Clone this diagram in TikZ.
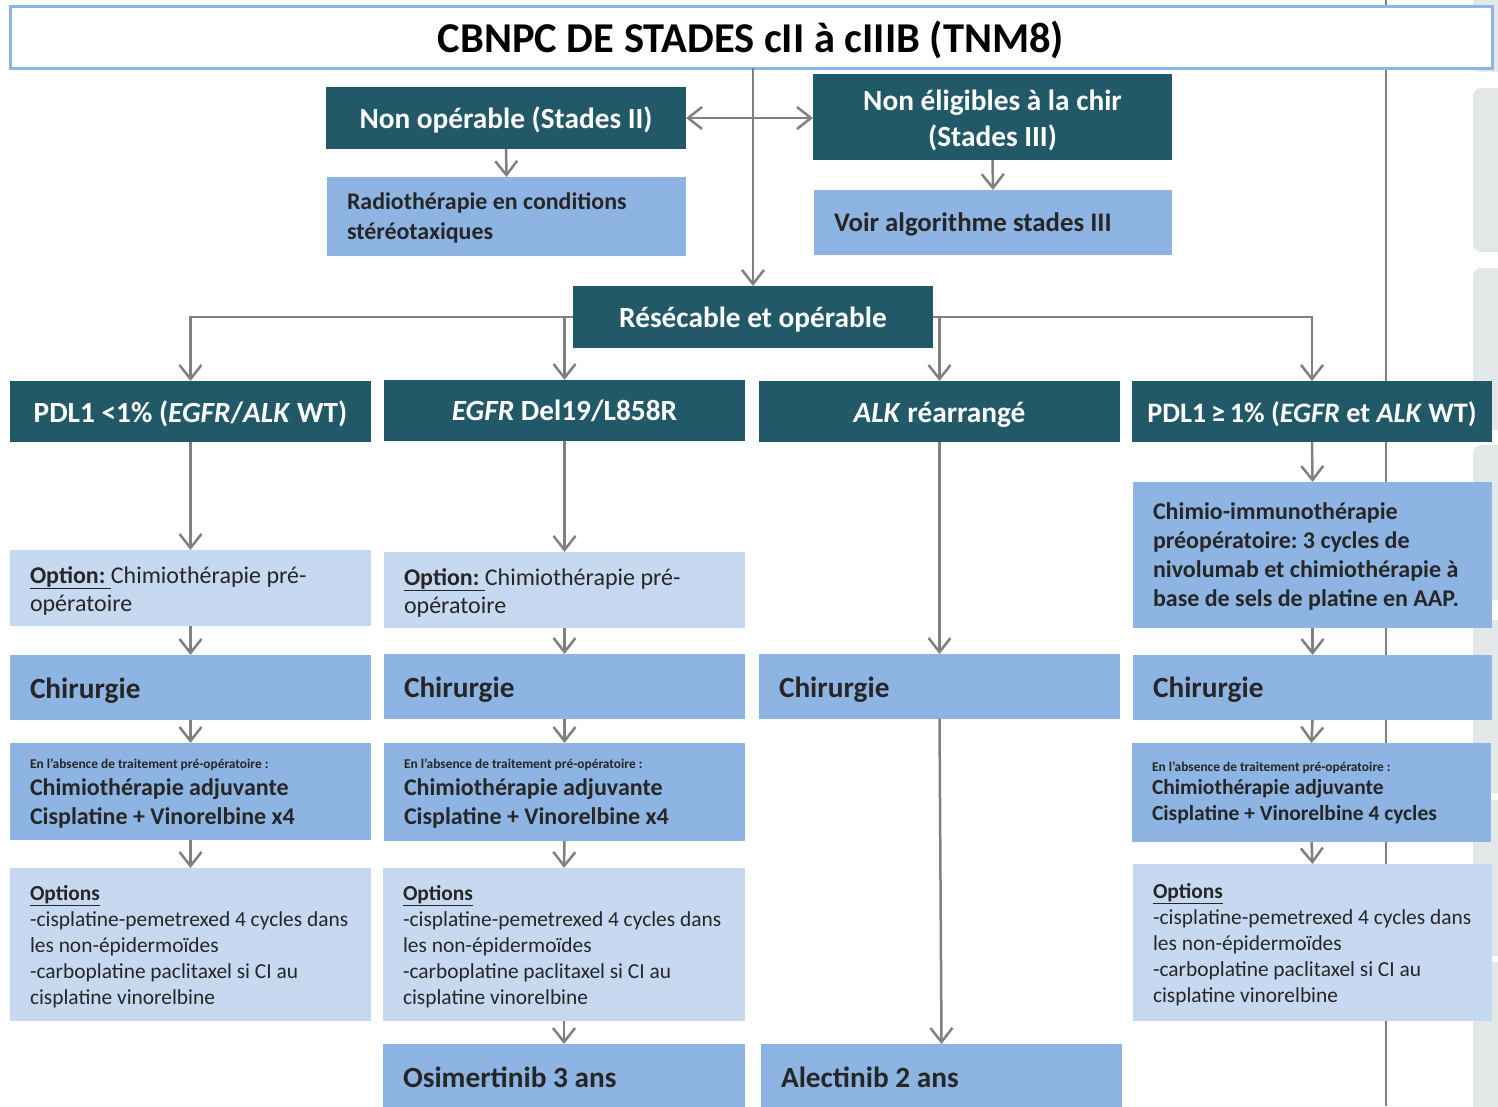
\documentclass[tikz,border=0pt]{standalone}
\usepackage{fontspec}
\setmainfont{Carlito}
\usetikzlibrary{arrows.meta}
\definecolor{dteal}{HTML}{215968}
\definecolor{mblue}{HTML}{8EB4E3}
\definecolor{lblue}{HTML}{C6D9F1}
\definecolor{txt}{HTML}{262626}
\definecolor{agray}{HTML}{808080}
\definecolor{sidegray}{HTML}{E4E7E7}
\newcommand{\fs}[2]{\fontsize{#1}{#2}\selectfont}
\frenchspacing
\begin{document}
\begin{tikzpicture}[x=1pt,y=-1pt,
  bx/.style={anchor=north west, inner sep=0pt, outer sep=0pt},
  dark/.style={bx, fill=dteal, text=white, font=\bfseries\fs{29.3}{36}, align=center},
  mid/.style={bx, fill=mblue, text=txt},
  light/.style={bx, fill=lblue, text=txt},
  lt/.style={align=flush left, inner xsep=20pt, text width=#1},
  hd/.style 2 args={text height=#1pt, text depth=#2pt},
  big/.style={font=\bfseries\fs{29.3}{34}},
  opt/.style={font=\fs{24}{28}},
  adj/.style={font=\bfseries\fs{24}{29}},
  adjs/.style={font=\bfseries\fs{21.5}{26}},
  optl/.style={font=\fs{21.4}{26}},
  arr/.style={draw=agray, line width=2.5pt, -{Straight Barb[length=14pt,width=22pt]}},
  sidebox/.style={fill=sidegray, rounded corners=8pt},
]
\useasboundingbox (0,0) rectangle (1498,1106);
% right-hand background elements
\foreach \a/\b in {-20/72, 88/252, 268/430, 445/600, 620/793, 800/956, 962/1130}
  \path[sidebox] (1473,\a) rectangle (1530,\b);
\coordinate (vtop) at (1386,0);
\coordinate (vbot) at (1386,1106);
\draw[agray, line width=2pt] (vtop) -- (vbot);

% title
\node[bx, fill=white, draw=mblue, line width=3pt, minimum width=1482, minimum height=62,
  font=\bfseries\fs{42.5}{48}, text=black, hd={30}{0}] (title) at (10,6)
  {CBNPC DE STADES cII à cIIIB (TNM8)};

% top row
\node[dark, hd={20}{0}, minimum width=360, minimum height=62] (nop) at (326,87) {Non opérable (Stades II)};
\node[mid, lt=319, hd={0}{14}, minimum width=359, minimum height=79, font=\bfseries\fs{23.9}{30}] (radio) at (327,177)
  {Radiothérapie en conditions\\stéréotaxiques};
\node[dark, hd={58}{0}, minimum width=359, minimum height=86] (nel) at (813,74) {Non éligibles à la chir\\(Stades III)};
\node[mid, lt=318, hd={17}{0}, minimum width=358, minimum height=65, font=\bfseries\fs{26.8}{30}] (voir) at (814,190)
  {Voir algorithme stades III};
\node[dark, hd={20}{0}, minimum width=360, minimum height=62] (res) at (573,286) {Résécable et opérable};

% headers
\node[dark, hd={21}{0}, minimum width=361, minimum height=61] (h1) at (10,381) {PDL1 <1\% (\textit{EGFR}/\textit{ALK} WT)};
\node[dark, hd={19}{0}, minimum width=361, minimum height=61] (h2) at (384,380) {\textit{EGFR} Del19/L858R};
\node[dark, hd={21}{0}, minimum width=361, minimum height=61] (h3) at (759,381) {\textit{ALK} réarrangé};
\node[dark, hd={21}{0}, minimum width=360, minimum height=61, font=\bfseries\fs{28.2}{36}] (h4) at (1132,381)
  {PDL1\hspace{0.17em}≥\hspace{0.17em}1\% (\textit{EGFR} et \textit{ALK} WT)};

% column 1
\node[light, lt=321, hd={0}{9}, minimum width=361, minimum height=76, opt] (o1) at (10,550)
  {\underline{\textbf{Option:}\ }Chimiothérapie pré-\\opératoire};
\node[mid, lt=321, hd={21}{0}, minimum width=361, minimum height=65, big] (c1) at (10,655) {Chirurgie};
\node[mid, lt=321, hd={0}{47}, minimum width=361, minimum height=97, adj] (a1) at (10,743)
  {{\fs{13.4}{14}En l’absence de traitement pré-opératoire :}\\[-1.5pt]Chimiothérapie adjuvante\\Cisplatine + Vinorelbine x4};
\node[light, lt=321, hd={0}{89}, minimum width=361, minimum height=153, optl] (p1) at (10,868)
  {\underline{\textbf{Options}}\\-cisplatine-pemetrexed 4 cycles dans\\les non-épidermoïdes\\-carboplatine paclitaxel si CI au\\cisplatine vinorelbine};

% column 2
\node[light, lt=321, hd={0}{9}, minimum width=361, minimum height=76, opt] (o2) at (384,552)
  {\underline{\textbf{Option:}\ }Chimiothérapie pré-\\opératoire};
\node[mid, lt=321, hd={21}{0}, minimum width=361, minimum height=65, big] (c2) at (384,654) {Chirurgie};
\node[mid, lt=321, hd={0}{48}, minimum width=361, minimum height=98, adj] (a2) at (384,743)
  {{\fs{13.4}{14}En l’absence de traitement pré-opératoire :}\\[-1.5pt]Chimiothérapie adjuvante\\Cisplatine + Vinorelbine x4};
\node[light, lt=322, hd={0}{89}, minimum width=362, minimum height=153, optl] (p2) at (383,868)
  {\underline{\textbf{Options}}\\-cisplatine-pemetrexed 4 cycles dans\\les non-épidermoïdes\\-carboplatine paclitaxel si CI au\\cisplatine vinorelbine};
\node[mid, lt=322, hd={18}{0}, minimum width=362, minimum height=68, big] (osi) at (383,1044) {Osimertinib 3 ans};

% column 3
\node[mid, lt=321, hd={21}{0}, minimum width=361, minimum height=65, big] (c3) at (759,654) {Chirurgie};
\node[mid, lt=321, hd={18}{0}, minimum width=361, minimum height=68, big] (ale) at (761,1044) {Alectinib 2 ans};

% column 4
\node[mid, lt=319, hd={0}{71}, minimum width=359, minimum height=146, font=\bfseries\fs{24}{29}] (ch4) at (1133,482)
  {Chimio-immunothérapie\\préopératoire: 3 cycles de\\nivolumab et chimiothérapie à\\base de sels de platine en AAP.};
\node[mid, lt=319, hd={19}{0}, minimum width=359, minimum height=65, big] (c4) at (1133,655) {Chirurgie};
\node[mid, lt=319, hd={0}{43}, minimum width=359, minimum height=99, adjs] (a4) at (1132,743)
  {{\fs{13.4}{14}En l’absence de traitement pré-opératoire :}\\[-2.2pt]Chimiothérapie adjuvante\\Cisplatine + Vinorelbine 4 cycles};
\node[light, lt=319, hd={0}{89}, minimum width=359, minimum height=157, optl] (p4) at (1133,864)
  {\underline{\textbf{Options}}\\-cisplatine-pemetrexed 4 cycles dans\\les non-épidermoïdes\\-carboplatine paclitaxel si CI au\\cisplatine vinorelbine};

% connectors top
\draw[arr] (res.north |- title.south) -- (res.north);
\draw[arr, {Straight Barb[length=14pt,width=22pt]}-{Straight Barb[length=14pt,width=22pt]}] (nop.east) -- (nop.east -| nel.west);
\draw[arr] (nop.south) -- (radio.north);
\draw[arr] (nel.south) -- (voir.north);
\draw[arr] (res.west) -| (h1.north);
\draw[arr] (res.west) -| (h2.north);
\draw[arr] (res.east) -| (h3.north);
\draw[arr] (res.east) -| (h4.north);
% columns
\draw[arr] (h1.south) -- (o1.north);
\draw[arr] (o1.south) -- (c1.north);
\draw[arr] (c1.south) -- (a1.north);
\draw[arr] (a1.south) -- (p1.north);
\draw[arr] (h2.south) -- (o2.north);
\draw[arr] (o2.south) -- (c2.north);
\draw[arr] (c2.south) -- (a2.north);
\draw[arr] (a2.south) -- (p2.north);
\draw[arr] (p2.south) -- (osi.north);
\draw[arr] (h3.south) -- (c3.north);
\draw[arr] (c3.south) -- (ale.north);
\draw[arr] (h4.south) -- (ch4.north);
\draw[arr] (ch4.south) -- (c4.north);
\draw[arr] (c4.south) -- (a4.north);
\draw[arr] (a4.south) -- (p4.north);
\end{tikzpicture}
\end{document}
